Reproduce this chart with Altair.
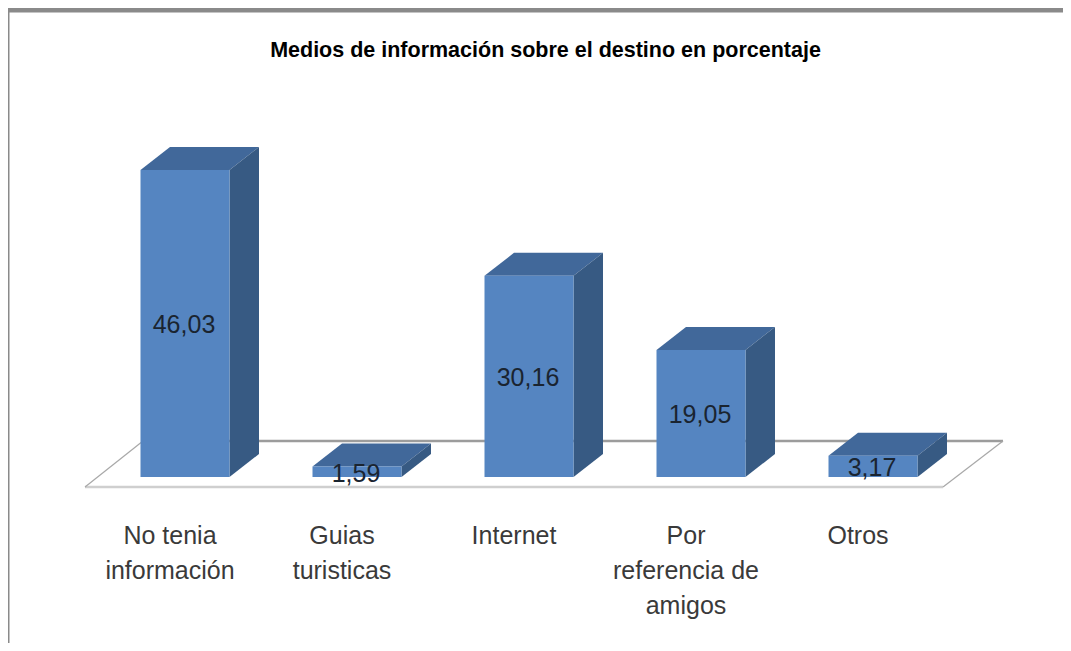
import altair as alt
import pandas as pd

title_text = "Medios de información sobre el destino en porcentaje"
categories = ["No tenia\ninformación", "Guias\nturisticas", "Internet", "Por\nreferencia de\namigos", "Otros"]
values = [46.03, 1.59, 30.16, 19.05, 3.17]
value_labels = ["46,03", "1,59", "30,16", "19,05", "3,17"]

W, H = 1055, 635
OX, OY = 8, 8
BAR0, STEP = 185.0, 172.0      # first bar centre and bar spacing, picture px
BASE, PPU = 477.0, 6.67        # zero line and px per percent


def ux(px):
    return (px - BAR0) / STEP


def uy(px):
    return (BASE - px) / PPU


xs = alt.Scale(domain=[ux(OX), ux(OX + W)], range=[0, W], nice=False, zero=False)
ys = alt.Scale(domain=[uy(OY + H), uy(OY)], range=[H, 0], nice=False, zero=False)
X = lambda f: alt.X(f, type="quantitative", scale=xs, axis=None)
Y = lambda f: alt.Y(f, type="quantitative", scale=ys, axis=None)

half = 44.5 / STEP
dx = 29.5 / STEP
dy = 23.0 / PPU

top_rows, side_rows, front_rows = [], [], []
for i, v in enumerate(values):
    a, b = i - half, i + half
    front_rows += [dict(id=i, x=a, y=0, y2=v), dict(id=i, x=b, y=0, y2=v)]
    side_rows += [dict(id=i, x=b, y=0, y2=v), dict(id=i, x=b + dx, y=dy, y2=v + dy)]
    top_rows += [
        dict(id=i, x=a, y=v, y2=v),
        dict(id=i, x=a + dx, y=v, y2=v + dy),
        dict(id=i, x=b, y=v, y2=v + dy),
        dict(id=i, x=b + dx, y=v + dy, y2=v + dy),
    ]


def faces(rows, color):
    return alt.Chart(pd.DataFrame(rows)).mark_area(color=color, interpolate="linear").encode(
        x=X("x"), y=Y("y"), y2=alt.Y2("y2"), detail="id:N"
    )


# floor of the 3D chart
fl, fr, bl, br = ux(85), ux(943), ux(143), ux(1003)
ff, fb = uy(487), uy(441)


def edge(x0, y0, x1, y1, color, w):
    d = pd.DataFrame([dict(x=x0, y=y0, o=0), dict(x=x1, y=y1, o=1)])
    return alt.Chart(d).mark_line(color=color, strokeWidth=w).encode(x=X("x"), y=Y("y"), order="o:Q")


floor = [
    edge(bl, fb, br, fb, "#9c9c9c", 2.6),
    edge(fl, ff, fr, ff, "#cfcfcf", 2.4),
    edge(fl, ff, bl, fb, "#a8a8a8", 1.2),
    edge(fr, ff, br, fb, "#a8a8a8", 1.2),
]

df = pd.DataFrame(dict(
    i=range(len(values)), v=values, lab=value_labels, cat=categories
))
df["mid"] = df["v"] / 2
df["cx"] = df["i"] - 15 / STEP
df["ly"] = uy(536)

value_text = alt.Chart(df).mark_text(
    font="Liberation Sans", fontSize=25, color="#1a2430", align="center", baseline="middle",
    dx=-1, dy=2
).encode(x=X("i"), y=Y("mid"), text="lab:N")

cat_text = alt.Chart(df).mark_text(
    font="Liberation Sans", fontSize=25, color="#3a3a3a", align="center", baseline="middle",
    lineBreak="\n", lineHeight=35
).encode(x=X("cx"), y=Y("ly"), text="cat:N")

top_border = alt.Chart(pd.DataFrame({"a": [0]})).mark_rule(color="#8a8a8a", strokeWidth=5).encode(
    x=alt.value(0), x2=alt.value(W), y=alt.value(2)
)
left_border = alt.Chart(pd.DataFrame({"a": [0]})).mark_rule(color="#8a8a8a", strokeWidth=3).encode(
    x=alt.value(0), y=alt.value(0), y2=alt.value(H)
)

chart = alt.layer(
    top_border, left_border, *floor,
    faces(top_rows, "#41689a"), faces(side_rows, "#375a83"), faces(front_rows, "#5585c1"),
    value_text, cat_text,
).properties(
    width=W, height=H, padding=0,
    autosize=alt.AutoSizeParams(type="none"),
    background="white",
    title=alt.Title(title_text, anchor="middle", dx=10, dy=59, font="Liberation Sans",
                    fontSize=21.5, fontWeight="bold", color="#000000"),
).configure_view(stroke=None)

chart.save("out.html", embed_options={"renderer": "svg", "actions": False})
